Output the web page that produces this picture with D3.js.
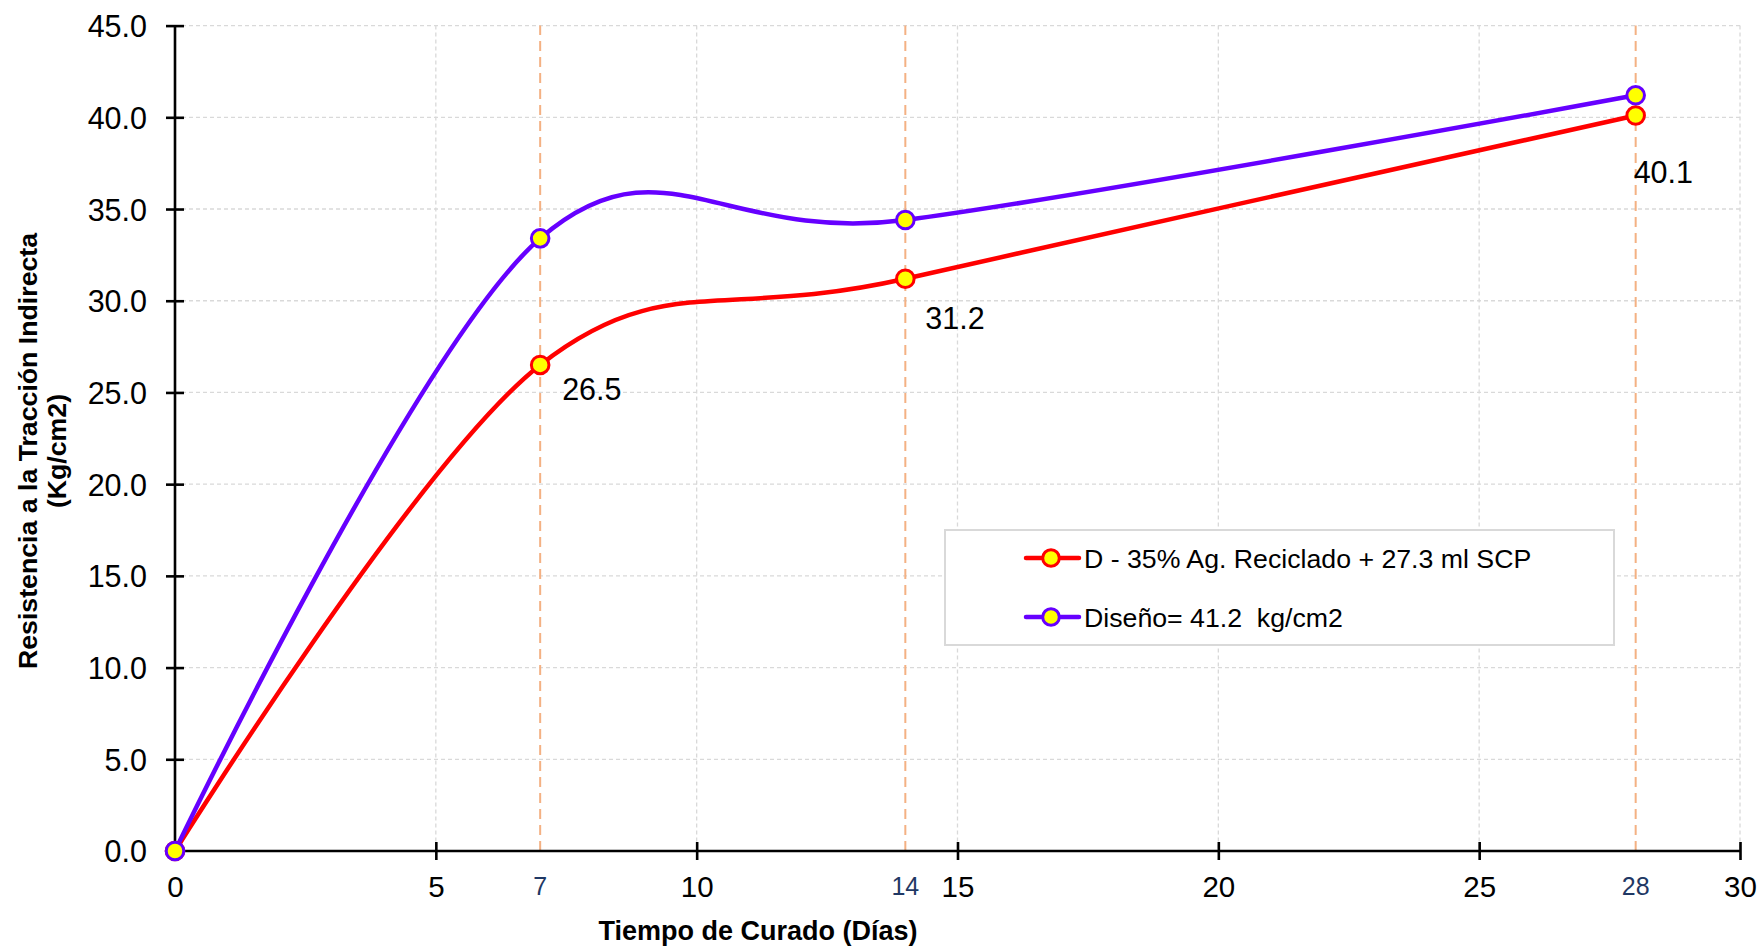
<!DOCTYPE html>
<html>
<head>
<meta charset="utf-8">
<script src="https://cdn.jsdelivr.net/npm/d3@7"></script>
<style>
  html, body { margin: 0; padding: 0; background: #ffffff; }
  svg { display: block; font-family: "Liberation Sans", Arial, sans-serif; }
  text { white-space: pre; }
</style>
</head>
<body>
<svg id="chart" width="1763" height="950"></svg>
<script>
// Curing time (days) and indirect tensile strength (kg/cm2)
const days = [0, 7, 14, 28];
const mixValues = [0, 26.5, 31.2, 40.1];
const designValues = [0, 33.4, 34.4, 41.2];

const seriesNames = ["D - 35% Ag. Reciclado + 27.3 ml SCP", "Diseño= 41.2  kg/cm2"];
const seriesColors = ["#ff0000", "#6600ff"];

const xTicks = [0, 5, 10, 15, 20, 25, 30];
const yTicks = [0, 5, 10, 15, 20, 25, 30, 35, 40, 45];
const testDays = [7, 14, 28];

// label placement for the mix values (pixel offset from the point)
const labelOffsets = [null, [22, 35], [20, 50], [-2, 68]];

const svg = d3.select("#chart");
const plotLeft = 175, plotRight = 1740, plotTop = 25.6, plotBottom = 851;

const x = d3.scaleLinear().domain([0, 30]).range([plotLeft, plotRight]);
const y = d3.scaleLinear().domain([0, 45]).range([plotBottom, plotTop]);

// gridlines
const grid = svg.append("g");
grid.selectAll("line.h").data(yTicks.slice(1)).join("line")
  .attr("x1", plotLeft).attr("x2", plotRight)
  .attr("y1", d => y(d)).attr("y2", d => y(d))
  .attr("stroke", "#d9d9d9").attr("stroke-width", 1.3).attr("stroke-dasharray", "4,3");
grid.selectAll("line.v").data(xTicks.slice(1)).join("line")
  .attr("y1", plotTop).attr("y2", plotBottom)
  .attr("x1", d => x(d)).attr("x2", d => x(d))
  .attr("stroke", "#d9d9d9").attr("stroke-width", 1.3).attr("stroke-dasharray", "4,3");

// test-age markers
svg.append("g").selectAll("line").data(testDays).join("line")
  .attr("x1", d => x(d)).attr("x2", d => x(d))
  .attr("y1", plotBottom).attr("y2", plotTop)
  .attr("stroke", "#f4b183").attr("stroke-width", 2).attr("stroke-dasharray", "10,6");

// axes
const yAxis = svg.append("g").attr("transform", `translate(${plotLeft},0)`)
  .call(d3.axisLeft(y).tickValues(yTicks).tickFormat(d3.format(".1f")).tickSize(0).tickPadding(28));
yAxis.select(".domain").attr("stroke", "#000").attr("stroke-width", 2.6).attr("d", `M0,${plotBottom}V${plotTop}`);
yAxis.selectAll(".tick").append("line").attr("x1", -9).attr("x2", 9).attr("stroke", "#000").attr("stroke-width", 2.6);
yAxis.selectAll(".tick text").attr("font-size", 30.5).attr("fill", "#000")
  .attr("font-family", "Liberation Sans, Arial, sans-serif").attr("dy", "0.36em");

const xAxis = svg.append("g").attr("transform", `translate(0,${plotBottom})`)
  .call(d3.axisBottom(x).tickValues(xTicks).tickFormat(d3.format("d")).tickSize(0).tickPadding(25));
xAxis.select(".domain").attr("stroke", "#000").attr("stroke-width", 2.6).attr("d", `M${plotLeft},0H${plotRight}`);
xAxis.selectAll(".tick").append("line").attr("y1", -9).attr("y2", 9).attr("stroke", "#000").attr("stroke-width", 2.6);
xAxis.selectAll(".tick text").attr("font-size", 29.5).attr("fill", "#000")
  .attr("font-family", "Liberation Sans, Arial, sans-serif").attr("dy", "0.71em");

// test-age tick labels
svg.append("g").selectAll("text").data(testDays).join("text")
  .attr("x", d => x(d)).attr("y", 895)
  .attr("text-anchor", "middle").attr("font-size", 25).attr("fill", "#1f3864")
  .text(d => d);

// axis titles
svg.append("text").attr("x", 758).attr("y", 940).attr("text-anchor", "middle")
  .attr("font-size", 27).attr("font-weight", "bold").attr("fill", "#000")
  .text("Tiempo de Curado (Días)");
const yTitle = svg.append("g").attr("transform", "translate(0,451) rotate(-90)")
  .attr("text-anchor", "middle").attr("font-size", 26.7).attr("font-weight", "bold").attr("fill", "#000");
yTitle.append("text").attr("x", 0).attr("y", 37).text("Resistencia a la Tracción Indirecta");
yTitle.append("text").attr("x", 0).attr("y", 66).text("(Kg/cm2)");

// smoothed series
const line = d3.line().x(d => x(d[0])).y(d => y(d[1])).curve(d3.curveCardinal.tension(0));
const series = [mixValues, designValues].map((vals, i) => ({
  name: seriesNames[i], color: seriesColors[i], pts: days.map((d, j) => [d, vals[j]])
}));

series.forEach(s => {
  svg.append("path").datum(s.pts).attr("d", line)
    .attr("fill", "none").attr("stroke", s.color).attr("stroke-width", 4.5)
    .attr("stroke-linejoin", "round").attr("stroke-linecap", "round");
});
series.forEach(s => {
  svg.append("g").selectAll("circle").data(s.pts).join("circle")
    .attr("cx", d => x(d[0])).attr("cy", d => y(d[1])).attr("r", 8.8)
    .attr("fill", "#ffff00").attr("stroke", s.color).attr("stroke-width", 3);
});

// value labels for the mix series
svg.append("g").selectAll("text")
  .data(days.map((d, i) => ({ d, v: mixValues[i], off: labelOffsets[i] })).filter(o => o.off))
  .join("text")
  .attr("x", o => x(o.d) + o.off[0]).attr("y", o => y(o.v) + o.off[1])
  .attr("font-size", 30.5).attr("fill", "#000")
  .text(o => d3.format(".1f")(o.v));

// legend
const lg = svg.append("g");
lg.append("rect").attr("x", 945).attr("y", 530).attr("width", 669).attr("height", 115)
  .attr("fill", "#fff").attr("stroke", "#d9d9d9").attr("stroke-width", 2);
series.forEach((s, i) => {
  const cy = 558 + i * 59;
  lg.append("line").attr("x1", 1026).attr("x2", 1079).attr("y1", cy).attr("y2", cy)
    .attr("stroke", s.color).attr("stroke-width", 4.5).attr("stroke-linecap", "round");
  lg.append("circle").attr("cx", 1051).attr("cy", cy).attr("r", 8.3)
    .attr("fill", "#ffff00").attr("stroke", s.color).attr("stroke-width", 3);
  lg.append("text").attr("x", 1084).attr("y", cy + 9.5).attr("font-size", 26.7).attr("fill", "#000")
    .text(s.name);
});
</script>
</body>
</html>
